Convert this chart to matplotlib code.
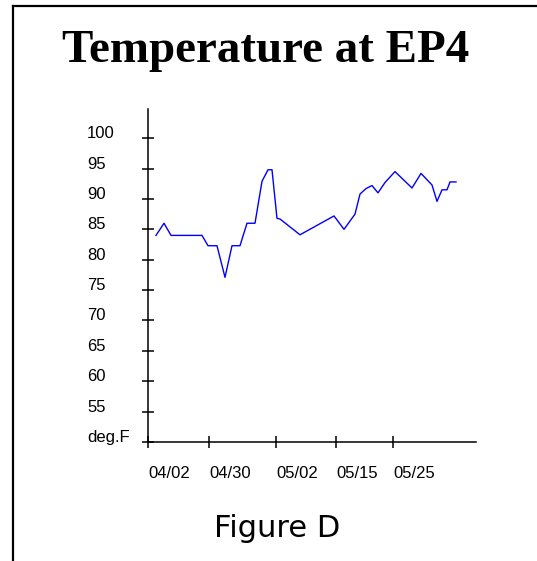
import matplotlib
matplotlib.use("Agg")
import matplotlib.pyplot as plt
from matplotlib.lines import Line2D
from matplotlib import transforms

# sample positions along the time axis and temperature readings (deg F)
pos = [8, 16, 23, 54, 60, 69, 77, 84, 92, 99, 107, 114, 120, 124, 129, 132,
       152, 186, 196, 207, 212, 218, 224, 230, 237, 247, 264, 273, 284, 289,
       294, 299, 302, 308]
temp = [84.0, 86.0, 84.0, 84.0, 82.3, 82.3, 77.1, 82.3, 82.3, 86.0, 86.0,
        92.9, 94.8, 94.8, 86.8, 86.7, 84.1, 87.2, 85.0, 87.5, 90.8, 91.7,
        92.2, 91.0, 92.7, 94.5, 91.8, 94.2, 92.3, 89.6, 91.5, 91.5, 92.8, 92.8]

date_pos = [0, 61, 128, 188, 245]
date_labels = ["04/02", "04/30", "05/02", "05/15", "05/25"]
y_ticks = [50, 55, 60, 65, 70, 75, 80, 85, 90, 95, 100]
y_labels = ["deg.F", "55", "60", "65", "70", "75", "80", "85", "90", "95", "100"]

W, H = 537, 561
fig = plt.figure(figsize=(W / 100, H / 100), dpi=100)
fig.patch.set_facecolor("white")

# frame around the figure (left and top only)
fig.add_artist(Line2D([13 / W, 13 / W], [0, 1 - 6 / H], color="black", lw=1.6,
                      transform=fig.transFigure))
fig.add_artist(Line2D([13 / W, 1], [1 - 6 / H, 1 - 6 / H], color="black", lw=1.6,
                      transform=fig.transFigure))

ax = fig.add_axes([148 / W, 1 - 442 / H, 328 / W, 333 / H])
ax.plot(pos, temp, color="#0000ff", lw=1.0)
ax.set_xlim(0, 328)
ax.set_ylim(50, 104.8)

for s in ["top", "right"]:
    ax.spines[s].set_visible(False)
for s in ["left", "bottom"]:
    ax.spines[s].set_linewidth(1.1)

ax.set_xticks(date_pos)
ax.set_yticks(y_ticks)
ax.set_xticklabels([])
ax.set_yticklabels([])
ax.tick_params(direction="inout", length=8, width=1.1, color="black")

# y labels sit left-aligned with their baseline on the tick
ty = transforms.blended_transform_factory(fig.transFigure, ax.transData)
for v, lab in zip(y_ticks, y_labels):
    ax.text(87 / W, v, lab, transform=ty, ha="left", va="baseline",
            fontsize=12, family="Liberation Sans", clip_on=False)

# x labels start at their tick
tx = transforms.blended_transform_factory(ax.transData, fig.transFigure)
for p, lab in zip(date_pos, date_labels):
    ax.text(p, 1 - 478 / H, lab, transform=tx, ha="left", va="baseline",
            fontsize=12, family="Liberation Sans", clip_on=False)

fig.text(266 / W, 1 - 62 / H, "Temperature at EP4", ha="center", va="baseline",
         fontsize=33.8, fontweight="bold", family="Liberation Serif")
fig.text(277 / W, 1 - 537 / H, "Figure D", ha="center", va="baseline",
         fontsize=22, family="DejaVu Sans")

fig.savefig("out.png", dpi=100, facecolor="white")
